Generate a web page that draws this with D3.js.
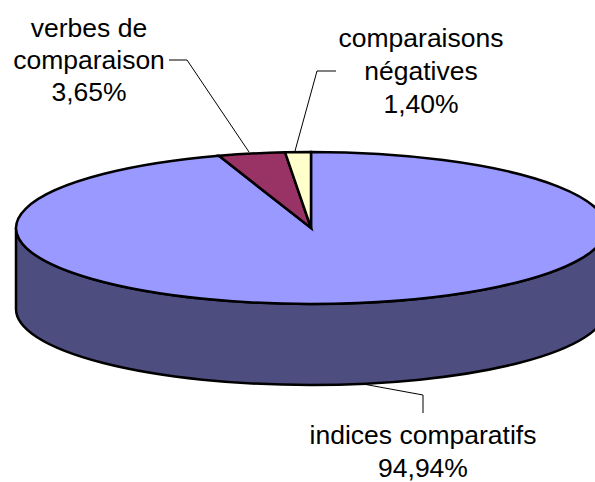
<!DOCTYPE html>
<html>
<head>
<meta charset="utf-8">
<script src="https://d3js.org/d3.v7.min.js"></script>
<style>
html, body { margin: 0; padding: 0; background: #fff; overflow: hidden; }
text { font-family: "Liberation Sans", Arial, sans-serif; font-size: 26.5px; fill: #000; text-anchor: middle; }
</style>
</head>
<body>
<script>
var width = 595, height = 482;

var categories = ["indices comparatifs", "verbes de comparaison", "comparaisons négatives"];
var values = [94.94, 3.65, 1.40];
var valueLabels = ["94,94%", "3,65%", "1,40%"];
var colors = ["#9999ff", "#993366", "#ffffcc"];
var sideColor = "#4d4d80";

var cx = 311, cy = 228, rx = 295, ry = 76, depth = 81;

var svg = d3.select("body").append("svg")
    .attr("width", width)
    .attr("height", height);

// side of the disc, lower half of the ellipse pushed down
svg.append("path")
    .attr("d", "M" + (cx - rx) + "," + cy +
        "A" + rx + "," + ry + " 0 0 0 " + (cx + rx) + "," + cy +
        "V" + (cy + depth) +
        "A" + rx + "," + ry + " 0 0 1 " + (cx - rx) + "," + (cy + depth) + "Z")
    .attr("fill", sideColor)
    .attr("stroke", "#000")
    .attr("stroke-width", 2.5)
    .attr("stroke-linejoin", "round");

var pie = d3.pie().sort(null);
var arc = d3.arc().innerRadius(0).outerRadius(rx);

var g = svg.append("g")
    .attr("transform", "translate(" + cx + "," + cy + ")scale(1," + (ry / rx) + ")");

g.selectAll("path")
    .data(pie(values))
    .enter().append("path")
    .attr("d", arc)
    .attr("fill", function (d, i) { return colors[i]; })
    .attr("stroke", "#000")
    .attr("stroke-width", 2.5)
    .attr("stroke-linejoin", "miter")
    .attr("vector-effect", "non-scaling-stroke");

// leader lines
var leaders = [
    [[363, 384], [423, 395], [423, 413]],
    [[249, 152], [187, 60], [169, 60]],
    [[295, 151], [317, 71], [336, 71]]
];
svg.selectAll("path.leader")
    .data(leaders)
    .enter().append("path")
    .attr("class", "leader")
    .attr("d", d3.line())
    .attr("fill", "none")
    .attr("stroke", "#000")
    .attr("stroke-width", 1);

// labels
var labelLines = [
    [categories[0], valueLabels[0]],
    ["verbes de", "comparaison", valueLabels[1]],
    ["comparaisons", "négatives", valueLabels[2]]
];
var labelPos = [[423, 444], [89, 37], [421, 47]];
var lineStep = [33, 32, 33];

labelLines.forEach(function (lines, i) {
    var t = svg.append("text");
    lines.forEach(function (s, j) {
        t.append("tspan")
            .attr("x", labelPos[i][0])
            .attr("y", labelPos[i][1] + j * lineStep[i])
            .text(s);
    });
});
</script>
</body>
</html>
